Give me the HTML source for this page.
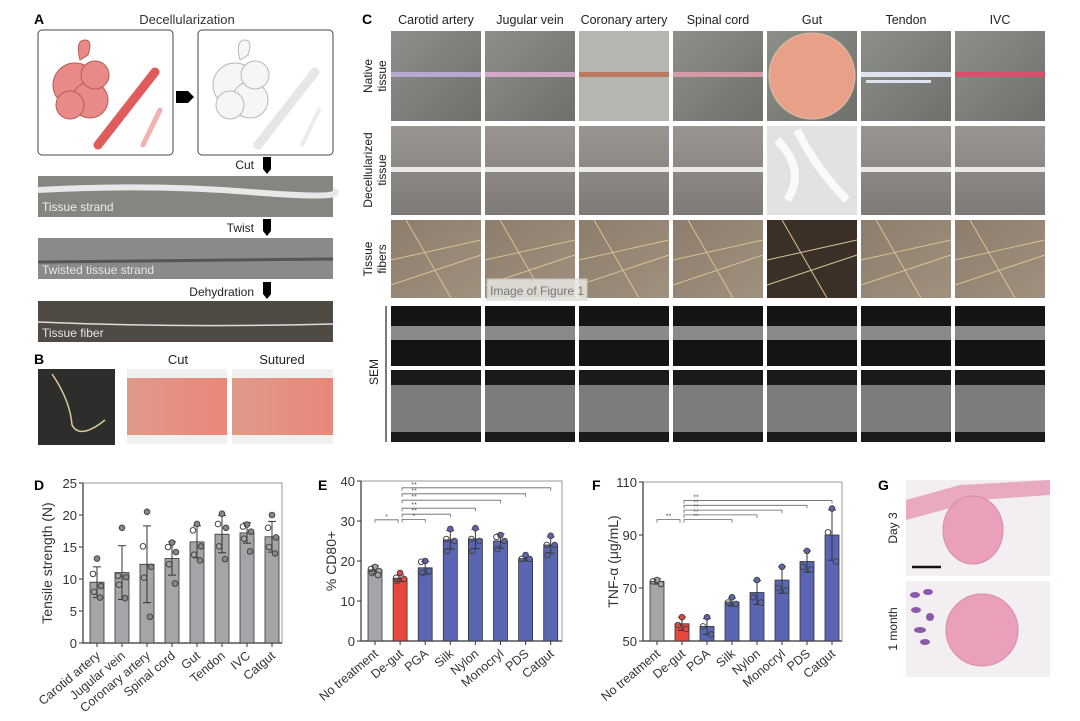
<!DOCTYPE html>
<html><head><meta charset="utf-8"><style>
html,body{margin:0;padding:0;background:#fff}
svg{display:block;font-family:"Liberation Sans",Arial,sans-serif}
</style></head><body>
<svg id="fig" width="1080" height="721" viewBox="0 0 1080 721" xmlns="http://www.w3.org/2000/svg">
<defs>
<linearGradient id="gPhoto" x1="0" y1="0" x2="1" y2="1"><stop offset="0" stop-color="#8d8f8a"/><stop offset="1" stop-color="#6e706c"/></linearGradient>
<linearGradient id="gDec" x1="0" y1="0" x2="0" y2="1"><stop offset="0" stop-color="#9a9590"/><stop offset="1" stop-color="#7e7b77"/></linearGradient>
<linearGradient id="gFib" x1="0" y1="0" x2="1" y2="1"><stop offset="0" stop-color="#8c7d6c"/><stop offset="1" stop-color="#a0917f"/></linearGradient>
<linearGradient id="gMeat" x1="0" y1="0" x2="1" y2="0"><stop offset="0" stop-color="#e09a8a"/><stop offset="1" stop-color="#e8877a"/></linearGradient>
</defs>

<g>
<text x="34" y="24" font-size="14" font-weight="bold">A</text>
<text x="187" y="24" font-size="13" text-anchor="middle" fill="#333">Decellularization</text>
<rect x="38" y="30" width="135" height="125" rx="4" fill="#fff" stroke="#444" stroke-width="1"/>
<g fill="#e88b88" stroke="#b95a5a" stroke-width="1">
<circle cx="75" cy="85" r="22"/><circle cx="90" cy="100" r="18"/><circle cx="70" cy="105" r="14"/><circle cx="95" cy="75" r="14"/>
<path d="M80 60 q-5 -20 5 -20 q8 0 3 15z"/>
</g>
<path d="M98 145 L155 72" stroke="#e05c5c" stroke-width="9" stroke-linecap="round"/>
<path d="M143 145 L160 110" stroke="#f1b2b2" stroke-width="5" stroke-linecap="round"/>
<path d="M176 91 h12 l6 6 l-6 6 h-12z" fill="#000"/>
<rect x="198" y="30" width="135" height="125" rx="4" fill="#fff" stroke="#444" stroke-width="1"/>
<g fill="#f6f6f6" stroke="#b8b8b8" stroke-width="1">
<circle cx="235" cy="85" r="22"/><circle cx="250" cy="100" r="18"/><circle cx="230" cy="105" r="14"/><circle cx="255" cy="75" r="14"/>
<path d="M240 60 q-5 -20 5 -20 q8 0 3 15z"/>
</g>
<path d="M258 145 L315 72" stroke="#e6e6e6" stroke-width="9" stroke-linecap="round"/>
<path d="M302 145 L319 110" stroke="#ececec" stroke-width="4" stroke-linecap="round"/>

<text x="254" y="169" font-size="12" text-anchor="end" fill="#222">Cut</text>
<path d="M263 157 h8 v12 l-4 5 l-4 -5z" fill="#000"/>
<rect x="38" y="176" width="295" height="41" fill="#858680"/>
<path d="M38 190 Q150 184 250 192 T333 190" stroke="#e8e8e8" stroke-width="6" fill="none"/>
<text x="42" y="211" font-size="12" fill="#eee">Tissue strand</text>

<text x="254" y="232" font-size="12" text-anchor="end" fill="#222">Twist</text>
<path d="M263 219 h8 v12 l-4 5 l-4 -5z" fill="#000"/>
<rect x="38" y="238" width="295" height="41" fill="#8a8b88"/>
<path d="M38 262 L333 259" stroke="#555" stroke-width="3"/>
<text x="42" y="274" font-size="12" fill="#e6e6e6">Twisted tissue strand</text>

<text x="254" y="296" font-size="12" text-anchor="end" fill="#222">Dehydration</text>
<path d="M263 282 h8 v12 l-4 5 l-4 -5z" fill="#000"/>
<rect x="38" y="301" width="295" height="41" fill="#4f4a44"/>
<path d="M38 322 Q180 328 333 324" stroke="#ddd" stroke-width="1.5" fill="none"/>
<text x="42" y="337" font-size="12" fill="#e6e6e6">Tissue fiber</text>
</g>

<g>
<text x="34" y="364" font-size="14" font-weight="bold">B</text>
<rect x="38" y="369" width="77" height="76" fill="#2d2d2b"/>
<path d="M52 374 Q70 400 72 425 Q80 440 105 420" stroke="#d8c89a" stroke-width="1.5" fill="none"/>
<text x="178" y="364" font-size="13" text-anchor="middle" fill="#222">Cut</text>
<text x="282" y="364" font-size="13" text-anchor="middle" fill="#222">Sutured</text>
<rect x="127" y="369" width="100" height="75" fill="#f0f0ee"/>
<rect x="127" y="378" width="100" height="57" fill="url(#gMeat)"/>
<rect x="232" y="369" width="101" height="75" fill="#f0f0ee"/>
<rect x="232" y="378" width="101" height="57" fill="url(#gMeat)"/>
</g>

<g id="panelC">
<text x="362" y="24" font-size="14" font-weight="bold">C</text>
<text transform="translate(372,76) rotate(-90)" font-size="12" text-anchor="middle" fill="#222">Native</text>
<text transform="translate(386,76) rotate(-90)" font-size="12" text-anchor="middle" fill="#222">tissue</text>
<text transform="translate(372,170) rotate(-90)" font-size="12" text-anchor="middle" fill="#222">Decellularized</text>
<text transform="translate(386,170) rotate(-90)" font-size="12" text-anchor="middle" fill="#222">tissue</text>
<text transform="translate(372,259) rotate(-90)" font-size="12" text-anchor="middle" fill="#222">Tissue</text>
<text transform="translate(386,259) rotate(-90)" font-size="12" text-anchor="middle" fill="#222">fibers</text>
<text transform="translate(378,372) rotate(-90)" font-size="12" text-anchor="middle" fill="#222">SEM</text>
<line x1="386" y1="306" x2="386" y2="442" stroke="#222" stroke-width="1.2"/>
</g>

<g>
<text x="878" y="490" font-size="14" font-weight="bold">G</text>
<text transform="translate(897,528) rotate(-90)" font-size="12" text-anchor="middle" fill="#222">Day 3</text>
<text transform="translate(897,629) rotate(-90)" font-size="12" text-anchor="middle" fill="#222">1 month</text>
<rect x="906" y="480" width="144" height="96" fill="#f3eef2"/>
<path d="M906 500 L960 485 L1050 480 L1050 495 L980 500 L906 520z" fill="#e9a9c0"/>
<ellipse cx="973" cy="530" rx="30" ry="34" fill="#eaa0bb" stroke="#d88aa8"/>
<line x1="912" y1="567" x2="941" y2="567" stroke="#111" stroke-width="2.5"/>
<rect x="906" y="581" width="144" height="96" fill="#f3eef2"/>
<g fill="#8a5aa8"><ellipse cx="915" cy="595" rx="5" ry="3"/><ellipse cx="928" cy="592" rx="5" ry="3"/><ellipse cx="916" cy="610" rx="5" ry="3"/><ellipse cx="930" cy="617" rx="4" ry="4"/><ellipse cx="920" cy="630" rx="6" ry="3"/><ellipse cx="925" cy="642" rx="5" ry="3"/></g>
<circle cx="982" cy="630" r="36" fill="#eaa0bb" stroke="#d88aa8"/>
</g>

<g id="charts"></g>
</svg>
<script>
const dCategories = ["Carotid artery","Jugular vein","Coronary artery","Spinal cord","Gut","Tendon","IVC","Catgut"];
const dMeans = [9.5,11,12.3,13.2,15.8,17,17.2,16.6];
const dSD = [2.4,4.2,6.0,2.6,2.5,2.9,1.6,2.4];
const dPoints = [[13.2,10.8,8.9,8,7.1],[18,10.5,10.3,9.1,7],[20.5,15.1,11.9,10.2,4.1],[15.7,15,14.2,12.3,9.3],[18.6,17.6,15.1,13.8,12.9],[20.2,18.6,18,15.1,13.1],[18.5,18.2,17.4,16.3,14.3],[20,18,16.5,15,14]];
const dTicks = [0,5,10,15,20,25];
const eCategories = ["No treatment","De-gut","PGA","Silk","Nylon","Monocryl","PDS","Catgut"];
const eMeans = [17.8,15.7,18.3,25.3,25.5,25,20.6,24];
const eSD = [1,0.8,1.6,2.3,2.4,1.8,0.6,2];
const ePoints = [[18.5,18,17.5,17,16.5],[17,15.8,15.5,15],[20,19.8,17.5,17],[28,25.5,25,22.5],[28.2,25.5,25,22.5],[26.5,26,25,23],[21.5,20.5,20.5],[26.3,24,24,21.5]];
const eTicks = [0,10,20,30,40];
const eSig = [[0,1,30.3,"*"],[1,2,30.4,"*"],[1,3,31.7,"**"],[1,4,33.2,"**"],[1,5,35.2,"**"],[1,6,36.8,"**"],[1,7,38.3,"**"]];
const fCategories = ["No treatment","De-gut","PGA","Silk","Nylon","Monocryl","PDS","Catgut"];
const fMeans = [72.5,56.5,55.5,64.7,68.3,73,80,90];
const fSD = [1,2.5,3,1.5,4.5,5,4,9.5];
const fPoints = [[73,72.5,71.5],[59,56,54.5],[59,55.5,52.5],[66.5,64.5,64],[73,66.5,64.5],[78,70,69],[84,78,77],[100,91,80]];
const fTicks = [50,70,90,110];
const fSig = [[0,1,95.8,"**"],[1,3,95.8,"**"],[1,4,97.6,"**"],[1,5,99.4,"**"],[1,6,101.2,"**"],[1,7,103.0,"**"]];
const cColumns = ["Carotid artery","Jugular vein","Coronary artery","Spinal cord","Gut","Tendon","IVC"];
const cNativeColor = ["#b9a8cf","#d3a8c8","#b97a60","#d69aa6","#e89888","#dde4f0","#d8506a"];

const NS="http://www.w3.org/2000/svg";
const root=document.getElementById('charts');
function el(tag,attrs,parent,txt){const e=document.createElementNS(NS,tag);for(const k in attrs)e.setAttribute(k,attrs[k]);if(txt!==undefined)e.textContent=txt;(parent||root).appendChild(e);return e;}

(function(){
  const pc=document.getElementById('panelC');
  const colX=i=>391+i*94, W=90;
  cColumns.forEach((name,i)=>{
    const x=colX(i);
    const t=el('text',{x:x+W/2,y:24,'font-size':12.5,'text-anchor':'middle',fill:'#222'},pc,name);
    
    
    const r1=el('rect',{x:x,y:31,width:W,height:90,fill:i===2?'#b4b6b2':'url(#gPhoto)'},pc);
    
    
    if(i===4){el('circle',{cx:x+W/2,cy:76,r:43,fill:'#e8a088',stroke:'#d9c0a8'},pc);}
    else{el('rect',{x:x,y:72,width:W,height:5,fill:cNativeColor[i]},pc); if(i===5)el('rect',{x:x+5,y:80,width:W-25,height:3,fill:'#dde4f0'},pc);}
    const r2=el('rect',{x:x,y:126,width:W,height:89,fill:i===4?'#e4e2e0':'url(#gDec)'},pc);
    
    
    if(i===4){el('path',{d:`M${x+10} ${140} q30 30 10 60 M${x+30} 130 q20 40 50 70`,stroke:'#fafafa','stroke-width':8,fill:'none'},pc);}
    else el('rect',{x:x,y:167,width:W,height:5,fill:'#eceae6'},pc);
    const r3=el('rect',{x:x,y:220,width:W,height:78,fill:i===4?'#3a3028':'url(#gFib)'},pc);
    
    
    el('path',{d:`M${x} ${260} L${x+W} ${240} M${x} ${285} L${x+W} ${255} M${x+15} 220 L${x+60} 298`,stroke:'#d8c290','stroke-width':1,fill:'none'},pc);
    const r4=el('rect',{x:x,y:306,width:W,height:60,fill:'#141414'},pc);
    
    
    el('rect',{x:x,y:326,width:W,height:14,fill:'#8a8a8a'},pc);
    const r5=el('rect',{x:x,y:370,width:W,height:72,fill:'#1a1a1a'},pc);
    
    
    el('rect',{x:x,y:385,width:W,height:47,fill:'#7c7c7c'},pc);
  });
  const w=el('rect',{x:487,y:279,width:100,height:21,fill:'#e8e6e2',opacity:0.85,stroke:'#ccc'},pc);
  
  
  el('text',{x:490,y:295,'font-size':12,fill:'#777'},pc,'Image of Figure 1');
})();

function barChart(o){
  const g=el('g',{});
  
  
  const y=v=>o.y0+(v-o.vmin)/(o.vmax-o.vmin)*(o.y1-o.y0);
  const x=i=>o.x0+o.first+i*o.step;
  el('text',{x:o.lx,y:o.ly,'font-size':14,'font-weight':'bold'},g,o.label);
  el('rect',{x:o.x0,y:o.y1,width:o.x1-o.x0,height:o.y0-o.y1,fill:'none',stroke:'#999','stroke-width':1},g);
  el('line',{x1:o.x0,y1:o.y1,x2:o.x0,y2:o.y0,stroke:'#333','stroke-width':1.2},g);
  el('line',{x1:o.x0,y1:o.y0,x2:o.x1,y2:o.y0,stroke:'#333','stroke-width':1.2},g);
  o.ticks.forEach(t=>{
    el('line',{x1:o.x0-4,y1:y(t),x2:o.x0,y2:y(t),stroke:'#333'},g);
    const tl=el('text',{x:o.x0-6,y:y(t)+5,'font-size':13,'text-anchor':'end',fill:'#333'},g,t);
    
    
  });
  const yt=el('text',{transform:`translate(${o.ytx},${(o.y0+o.y1)/2}) rotate(-90)`,'font-size':14,'text-anchor':'middle',fill:'#333'},g,o.ytitle);
  
  
  o.cats.forEach((c,i)=>{
    const cx=x(i), col=o.colors[i];
    const b=el('rect',{x:cx-7,y:y(o.means[i]),width:14,height:o.y0-y(o.means[i]),fill:col,stroke:'#333','stroke-width':0.8},g);
    
    
    const hi=y(o.means[i]+o.sd[i]), lo=y(o.means[i]-o.sd[i]);
    el('line',{x1:cx,y1:hi,x2:cx,y2:lo,stroke:'#333','stroke-width':1},g);
    el('line',{x1:cx-4,y1:hi,x2:cx+4,y2:hi,stroke:'#333'},g);
    el('line',{x1:cx-4,y1:lo,x2:cx+4,y2:lo,stroke:'#333'},g);
    o.points[i].forEach((v,j)=>{
      const dx=[0,-4,4,-3,3][j%5];
      const p=el('circle',{cx:cx+dx,cy:y(v),r:2.8,fill:j%2?'none':o.ptColors[i],stroke:'#444','stroke-width':1},g);
      
      
    });
    el('line',{x1:cx,y1:o.y0,x2:cx,y2:o.y0+4,stroke:'#333'},g);
    const xl=el('text',{transform:`translate(${cx+4},${o.y0+14}) rotate(-40)`,'font-size':12.5,'text-anchor':'end',fill:'#333'},g,c);
    
    
  });
  (o.sig||[]).forEach(s=>{
    const a=x(s[0]), bb=x(s[1]), yy=y(s[2]);
    const xa=s[0]===1?a+2:a, xb=s[0]===0?bb-2:bb;
    const br=el('path',{d:`M${xa} ${yy+3} V${yy} H${xb} V${yy+3}`,stroke:'#666','stroke-width':0.8,fill:'none'},g);
    
    
    el('text',{x:s[0]===0?(xa+xb)/2:xa+12,y:yy-1,'font-size':7,'text-anchor':'middle',fill:'#555'},g,s[3]);
  });
}
const gray='#a5a5a9', red='#e8473e', blue='#5a66b3';
barChart({name:'chart-d-tensile',label:'D',lx:34,ly:490,x0:83,x1:282,y0:643,y1:483,vmin:0,vmax:25,first:14,step:25,
  cats:dCategories,means:dMeans,sd:dSD,points:dPoints,ticks:dTicks,ytitle:'Tensile strength (N)',ytx:52,
  colors:dCategories.map(()=>gray),ptColors:dCategories.map(()=>'#888')});
const eCol=eCategories.map((c,i)=>i===0?gray:i===1?red:blue);
barChart({name:'chart-e-cd80',label:'E',lx:318,ly:490,x0:361,x1:562,y0:641,y1:481,vmin:0,vmax:40,first:14,step:25.1,
  cats:eCategories,means:eMeans,sd:eSD,points:ePoints,ticks:eTicks,ytitle:'% CD80+',ytx:336,
  colors:eCol,ptColors:eCol,sig:eSig});
const fCol=fCategories.map((c,i)=>i===0?gray:i===1?red:blue);
barChart({name:'chart-f-tnf',label:'F',lx:592,ly:490,x0:643,x1:842,y0:641,y1:482,vmin:50,vmax:110,first:14,step:25,
  cats:fCategories,means:fMeans,sd:fSD,points:fPoints,ticks:fTicks,ytitle:'TNF-α (μg/mL)',ytx:618,
  colors:fCol,ptColors:fCol,sig:fSig});
</script>
</body></html>
